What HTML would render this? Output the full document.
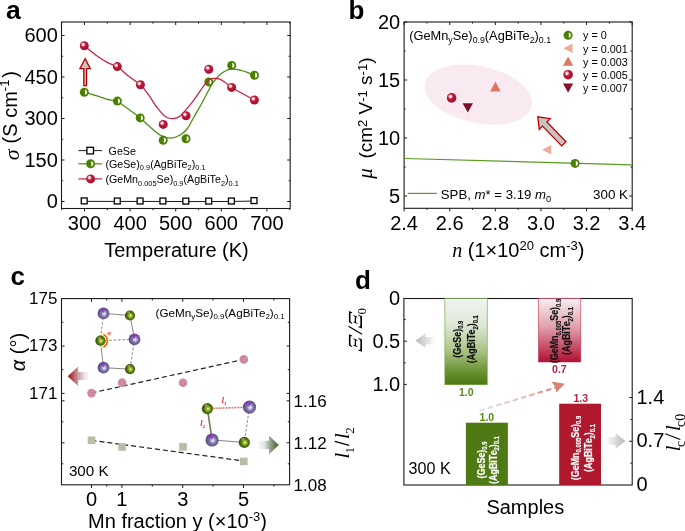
<!DOCTYPE html>
<html><head><meta charset="utf-8"><style>
html,body{margin:0;padding:0;background:#fff;}
svg{display:block;will-change:transform;filter:blur(0.25px);}
</style></head><body>
<svg width="685" height="531" viewBox="0 0 685 531" font-family="'Liberation Sans', sans-serif">

<defs>
<radialGradient id="gRed" cx="0.38" cy="0.36" r="0.62">
 <stop offset="0" stop-color="#ffffff"/>
 <stop offset="0.22" stop-color="#f3c6cf"/>
 <stop offset="0.42" stop-color="#c01a3c"/>
 <stop offset="1" stop-color="#a80f2c"/>
</radialGradient>
<radialGradient id="gPur" cx="0.55" cy="0.55" r="0.6" fx="0.55" fy="0.52">
 <stop offset="0" stop-color="#ffffff"/>
 <stop offset="0.16" stop-color="#d0c8ea"/>
 <stop offset="0.45" stop-color="#7a6ea6"/>
 <stop offset="1" stop-color="#4c4278"/>
</radialGradient>
<radialGradient id="gGrn" cx="0.55" cy="0.55" r="0.6" fx="0.55" fy="0.5">
 <stop offset="0" stop-color="#f4ffb0"/>
 <stop offset="0.2" stop-color="#a8c838"/>
 <stop offset="0.55" stop-color="#4c7410"/>
 <stop offset="1" stop-color="#2c4806"/>
</radialGradient>
<linearGradient id="gArrL" gradientUnits="userSpaceOnUse" x1="67.7" y1="0" x2="89" y2="0">
 <stop offset="0" stop-color="#9a0a0a"/>
 <stop offset="0.48" stop-color="#c89aa2"/>
 <stop offset="0.75" stop-color="#e4d8e0"/>
 <stop offset="1" stop-color="#f4f4fa" stop-opacity="0.6"/>
</linearGradient>
<linearGradient id="gArrG" gradientUnits="userSpaceOnUse" x1="258" y1="0" x2="279" y2="0">
 <stop offset="0" stop-color="#f4f4fa" stop-opacity="0.6"/>
 <stop offset="0.3" stop-color="#e2e4e6"/>
 <stop offset="0.52" stop-color="#a8b0a0"/>
 <stop offset="1" stop-color="#3a5a1e"/>
</linearGradient>
<linearGradient id="gGrayL" x1="0" y1="0" x2="1" y2="0">
 <stop offset="0" stop-color="#b8b8b8"/>
 <stop offset="1" stop-color="#ffffff"/>
</linearGradient>
<linearGradient id="gGrayR" x1="0" y1="0" x2="1" y2="0">
 <stop offset="0" stop-color="#ffffff"/>
 <stop offset="1" stop-color="#b8b8b8"/>
</linearGradient>
<linearGradient id="gBarG" x1="0" y1="0" x2="0" y2="1">
 <stop offset="0" stop-color="#f1f4f2"/>
 <stop offset="0.3" stop-color="#dfe8d6"/>
 <stop offset="0.6" stop-color="#abc488"/>
 <stop offset="0.85" stop-color="#6a9232"/>
 <stop offset="1" stop-color="#4a7812"/>
</linearGradient>
<linearGradient id="gBarR" x1="0" y1="0" x2="0" y2="1">
 <stop offset="0" stop-color="#f8eef0"/>
 <stop offset="0.45" stop-color="#e0a0ac"/>
 <stop offset="1" stop-color="#b01030"/>
</linearGradient>
<linearGradient id="gDash" gradientUnits="userSpaceOnUse" x1="479" y1="0" x2="560" y2="0">
 <stop offset="0" stop-color="#e2e2e2"/>
 <stop offset="0.45" stop-color="#e2c6c2"/>
 <stop offset="1" stop-color="#d98070"/>
</linearGradient>
</defs>

<line x1="61.70" y1="208.50" x2="61.70" y2="210.10" stroke="#1a1a1a" stroke-width="1"/>
<line x1="61.70" y1="22.00" x2="61.70" y2="23.60" stroke="#1a1a1a" stroke-width="1"/>
<line x1="84.50" y1="208.50" x2="84.50" y2="211.50" stroke="#1a1a1a" stroke-width="1"/>
<line x1="84.50" y1="22.00" x2="84.50" y2="25.00" stroke="#1a1a1a" stroke-width="1"/>
<line x1="107.30" y1="208.50" x2="107.30" y2="210.10" stroke="#1a1a1a" stroke-width="1"/>
<line x1="107.30" y1="22.00" x2="107.30" y2="23.60" stroke="#1a1a1a" stroke-width="1"/>
<line x1="130.10" y1="208.50" x2="130.10" y2="211.50" stroke="#1a1a1a" stroke-width="1"/>
<line x1="130.10" y1="22.00" x2="130.10" y2="25.00" stroke="#1a1a1a" stroke-width="1"/>
<line x1="152.90" y1="208.50" x2="152.90" y2="210.10" stroke="#1a1a1a" stroke-width="1"/>
<line x1="152.90" y1="22.00" x2="152.90" y2="23.60" stroke="#1a1a1a" stroke-width="1"/>
<line x1="175.70" y1="208.50" x2="175.70" y2="211.50" stroke="#1a1a1a" stroke-width="1"/>
<line x1="175.70" y1="22.00" x2="175.70" y2="25.00" stroke="#1a1a1a" stroke-width="1"/>
<line x1="198.50" y1="208.50" x2="198.50" y2="210.10" stroke="#1a1a1a" stroke-width="1"/>
<line x1="198.50" y1="22.00" x2="198.50" y2="23.60" stroke="#1a1a1a" stroke-width="1"/>
<line x1="221.30" y1="208.50" x2="221.30" y2="211.50" stroke="#1a1a1a" stroke-width="1"/>
<line x1="221.30" y1="22.00" x2="221.30" y2="25.00" stroke="#1a1a1a" stroke-width="1"/>
<line x1="244.10" y1="208.50" x2="244.10" y2="210.10" stroke="#1a1a1a" stroke-width="1"/>
<line x1="244.10" y1="22.00" x2="244.10" y2="23.60" stroke="#1a1a1a" stroke-width="1"/>
<line x1="266.90" y1="208.50" x2="266.90" y2="211.50" stroke="#1a1a1a" stroke-width="1"/>
<line x1="266.90" y1="22.00" x2="266.90" y2="25.00" stroke="#1a1a1a" stroke-width="1"/>
<line x1="289.70" y1="208.50" x2="289.70" y2="210.10" stroke="#1a1a1a" stroke-width="1"/>
<line x1="289.70" y1="22.00" x2="289.70" y2="23.60" stroke="#1a1a1a" stroke-width="1"/>
<line x1="61.50" y1="201.50" x2="64.50" y2="201.50" stroke="#1a1a1a" stroke-width="1"/>
<line x1="290.20" y1="201.50" x2="287.20" y2="201.50" stroke="#1a1a1a" stroke-width="1"/>
<line x1="61.50" y1="180.75" x2="63.10" y2="180.75" stroke="#1a1a1a" stroke-width="1"/>
<line x1="290.20" y1="180.75" x2="288.60" y2="180.75" stroke="#1a1a1a" stroke-width="1"/>
<line x1="61.50" y1="160.00" x2="64.50" y2="160.00" stroke="#1a1a1a" stroke-width="1"/>
<line x1="290.20" y1="160.00" x2="287.20" y2="160.00" stroke="#1a1a1a" stroke-width="1"/>
<line x1="61.50" y1="139.25" x2="63.10" y2="139.25" stroke="#1a1a1a" stroke-width="1"/>
<line x1="290.20" y1="139.25" x2="288.60" y2="139.25" stroke="#1a1a1a" stroke-width="1"/>
<line x1="61.50" y1="118.50" x2="64.50" y2="118.50" stroke="#1a1a1a" stroke-width="1"/>
<line x1="290.20" y1="118.50" x2="287.20" y2="118.50" stroke="#1a1a1a" stroke-width="1"/>
<line x1="61.50" y1="97.75" x2="63.10" y2="97.75" stroke="#1a1a1a" stroke-width="1"/>
<line x1="290.20" y1="97.75" x2="288.60" y2="97.75" stroke="#1a1a1a" stroke-width="1"/>
<line x1="61.50" y1="77.00" x2="64.50" y2="77.00" stroke="#1a1a1a" stroke-width="1"/>
<line x1="290.20" y1="77.00" x2="287.20" y2="77.00" stroke="#1a1a1a" stroke-width="1"/>
<line x1="61.50" y1="56.25" x2="63.10" y2="56.25" stroke="#1a1a1a" stroke-width="1"/>
<line x1="290.20" y1="56.25" x2="288.60" y2="56.25" stroke="#1a1a1a" stroke-width="1"/>
<line x1="61.50" y1="35.50" x2="64.50" y2="35.50" stroke="#1a1a1a" stroke-width="1"/>
<line x1="290.20" y1="35.50" x2="287.20" y2="35.50" stroke="#1a1a1a" stroke-width="1"/>
<rect x="61.5" y="22.0" width="228.7" height="186.5" fill="none" stroke="#1a1a1a" stroke-width="1.1"/>
<text x="57.80" y="208.10" font-size="20" text-anchor="end" font-weight="normal" font-style="normal" fill="#000" font-family="'Liberation Sans', sans-serif" >0</text>
<text x="57.80" y="166.60" font-size="20" text-anchor="end" font-weight="normal" font-style="normal" fill="#000" font-family="'Liberation Sans', sans-serif" >150</text>
<text x="57.80" y="125.10" font-size="20" text-anchor="end" font-weight="normal" font-style="normal" fill="#000" font-family="'Liberation Sans', sans-serif" >300</text>
<text x="57.80" y="83.60" font-size="20" text-anchor="end" font-weight="normal" font-style="normal" fill="#000" font-family="'Liberation Sans', sans-serif" >450</text>
<text x="57.80" y="42.10" font-size="20" text-anchor="end" font-weight="normal" font-style="normal" fill="#000" font-family="'Liberation Sans', sans-serif" >600</text>
<text x="84.50" y="229.60" font-size="20" text-anchor="middle" font-weight="normal" font-style="normal" fill="#000" font-family="'Liberation Sans', sans-serif" >300</text>
<text x="130.10" y="229.60" font-size="20" text-anchor="middle" font-weight="normal" font-style="normal" fill="#000" font-family="'Liberation Sans', sans-serif" >400</text>
<text x="175.70" y="229.60" font-size="20" text-anchor="middle" font-weight="normal" font-style="normal" fill="#000" font-family="'Liberation Sans', sans-serif" >500</text>
<text x="221.30" y="229.60" font-size="20" text-anchor="middle" font-weight="normal" font-style="normal" fill="#000" font-family="'Liberation Sans', sans-serif" >600</text>
<text x="266.90" y="229.60" font-size="20" text-anchor="middle" font-weight="normal" font-style="normal" fill="#000" font-family="'Liberation Sans', sans-serif" >700</text>
<text x="176.50" y="257.00" font-size="20" text-anchor="middle" font-weight="normal" font-style="normal" fill="#000" font-family="'Liberation Sans', sans-serif" >Temperature (K)</text>
<g transform="translate(17.4,160) rotate(-90)"><text x="-0.2" y="1.6" font-size="22" font-family="'Liberation Serif', serif" font-style="italic">σ</text><text x="16.6" y="0" font-size="20" font-family="'Liberation Sans', sans-serif">(S cm<tspan dy="-8" font-size="13">-1</tspan><tspan dy="8" dx="1.8">)</tspan></text></g>
<text x="6.10" y="19.20" font-size="26.5" text-anchor="start" font-weight="bold" font-style="normal" fill="#000" font-family="'Liberation Sans', sans-serif" >a</text>
<polyline points="84.20,201.35 117.30,201.45 140.10,201.45 162.90,201.45 185.80,201.55 208.70,201.55 231.40,201.45 254.00,201.05" fill="none" stroke="#1a1a1a" stroke-width="1"/>
<rect x="81.25" y="197.95" width="5.90" height="5.90" fill="#fff" stroke="#000" stroke-width="1.3"/>
<rect x="114.35" y="198.05" width="5.90" height="5.90" fill="#fff" stroke="#000" stroke-width="1.3"/>
<rect x="137.15" y="198.05" width="5.90" height="5.90" fill="#fff" stroke="#000" stroke-width="1.3"/>
<rect x="159.95" y="198.05" width="5.90" height="5.90" fill="#fff" stroke="#000" stroke-width="1.3"/>
<rect x="182.85" y="198.15" width="5.90" height="5.90" fill="#fff" stroke="#000" stroke-width="1.3"/>
<rect x="205.75" y="198.15" width="5.90" height="5.90" fill="#fff" stroke="#000" stroke-width="1.3"/>
<rect x="228.45" y="198.05" width="5.90" height="5.90" fill="#fff" stroke="#000" stroke-width="1.3"/>
<rect x="251.05" y="197.65" width="5.90" height="5.90" fill="#fff" stroke="#000" stroke-width="1.3"/>
<path d="M84.40,92.20 C86.33,92.78 92.20,94.52 96.00,95.70 C99.80,96.88 103.65,98.33 107.20,99.30 C110.75,100.27 113.83,99.92 117.30,101.50 C120.77,103.08 124.17,106.07 128.00,108.80 C131.83,111.53 136.70,114.95 140.30,117.90 C143.90,120.85 146.30,123.65 149.60,126.50 C152.90,129.35 156.58,133.07 160.10,135.00 C163.62,136.93 167.43,138.05 170.70,138.10 C173.97,138.15 176.98,136.82 179.70,135.30 C182.42,133.78 184.60,132.10 187.00,129.00 C189.40,125.90 191.35,121.50 194.10,116.70 C196.85,111.90 200.67,105.38 203.50,100.20 C206.33,95.02 209.10,89.05 211.10,85.60 C213.10,82.15 213.90,81.43 215.50,79.50 C217.10,77.57 218.97,75.47 220.70,74.00 C222.43,72.53 224.18,71.50 225.90,70.70 C227.62,69.90 229.28,69.43 231.00,69.20 C232.72,68.97 234.47,69.08 236.20,69.30 C237.93,69.52 239.67,70.03 241.40,70.50 C243.13,70.97 244.40,71.32 246.60,72.10 C248.80,72.88 253.27,74.68 254.60,75.20" fill="none" stroke="#4b8a10" stroke-width="1.25"/>
<circle cx="84.30" cy="92.30" r="4.50" fill="#4b8000"/>
<path d="M85.00,89.59 A2.80,2.80 0 0 1 85.00,95.01 Z" fill="#fff"/>
<circle cx="117.40" cy="101.10" r="4.50" fill="#4b8000"/>
<path d="M118.10,98.39 A2.80,2.80 0 0 1 118.10,103.81 Z" fill="#fff"/>
<circle cx="140.20" cy="117.90" r="4.50" fill="#4b8000"/>
<path d="M140.90,115.19 A2.80,2.80 0 0 1 140.90,120.61 Z" fill="#fff"/>
<circle cx="163.20" cy="140.20" r="4.50" fill="#4b8000"/>
<path d="M163.90,137.49 A2.80,2.80 0 0 1 163.90,142.91 Z" fill="#fff"/>
<circle cx="186.00" cy="138.70" r="4.50" fill="#4b8000"/>
<path d="M186.70,135.99 A2.80,2.80 0 0 1 186.70,141.41 Z" fill="#fff"/>
<circle cx="208.80" cy="81.90" r="4.50" fill="#4b8000"/>
<path d="M209.50,79.19 A2.80,2.80 0 0 1 209.50,84.61 Z" fill="#fff"/>
<circle cx="231.70" cy="65.40" r="4.50" fill="#4b8000"/>
<path d="M232.40,62.69 A2.80,2.80 0 0 1 232.40,68.11 Z" fill="#fff"/>
<circle cx="254.50" cy="75.20" r="4.50" fill="#4b8000"/>
<path d="M255.20,72.49 A2.80,2.80 0 0 1 255.20,77.91 Z" fill="#fff"/>
<path d="M84.20,45.90 C86.17,47.45 92.17,52.45 96.00,55.20 C99.83,57.95 103.65,60.47 107.20,62.40 C110.75,64.33 113.83,64.57 117.30,66.80 C120.77,69.03 124.17,72.80 128.00,75.80 C131.83,78.80 136.95,81.75 140.30,84.80 C143.65,87.85 145.30,90.28 148.10,94.10 C150.90,97.92 154.35,104.07 157.10,107.70 C159.85,111.33 162.33,114.10 164.60,115.90 C166.87,117.70 168.55,118.22 170.70,118.50 C172.85,118.78 175.78,118.15 177.50,117.60 C179.22,117.05 179.85,116.20 181.00,115.20 C182.15,114.20 183.07,113.10 184.40,111.60 C185.73,110.10 187.43,108.12 189.00,106.20 C190.57,104.28 192.22,102.23 193.80,100.10 C195.38,97.97 196.93,95.65 198.50,93.40 C200.07,91.15 201.32,88.90 203.20,86.60 C205.08,84.30 207.92,80.97 209.80,79.60 C211.68,78.23 212.92,78.52 214.50,78.40 C216.08,78.28 217.55,78.27 219.30,78.90 C221.05,79.53 222.95,80.77 225.00,82.20 C227.05,83.63 226.72,84.53 231.60,87.50 C236.48,90.47 250.52,97.92 254.30,100.00" fill="none" stroke="#c8203f" stroke-width="1.25"/>
<circle cx="84.30" cy="45.80" r="4.5" fill="url(#gRed)"/>
<circle cx="117.30" cy="66.60" r="4.5" fill="url(#gRed)"/>
<circle cx="140.40" cy="84.80" r="4.5" fill="url(#gRed)"/>
<circle cx="163.20" cy="124.40" r="4.5" fill="url(#gRed)"/>
<circle cx="186.00" cy="115.70" r="4.5" fill="url(#gRed)"/>
<circle cx="208.80" cy="69.20" r="4.5" fill="url(#gRed)"/>
<circle cx="231.60" cy="87.40" r="4.5" fill="url(#gRed)"/>
<circle cx="254.40" cy="100.00" r="4.5" fill="url(#gRed)"/>
<path d="M85.1,58.6 L90.3,68.6 L86.5,68.6 L86.5,85.6 L83.8,85.6 L83.8,68.6 L79.9,68.6 Z" fill="#c4c4c4" stroke="#c00000" stroke-width="1.3" stroke-linejoin="miter"/>
<line x1="78.4" y1="150.6" x2="102.1" y2="150.6" stroke="#222" stroke-width="1"/>
<rect x="86.90" y="147.30" width="6.60" height="6.60" fill="#fff" stroke="#000" stroke-width="1.3"/>
<line x1="78.4" y1="163.8" x2="102.1" y2="163.8" stroke="#4b8a10" stroke-width="1.2"/>
<circle cx="90.60" cy="163.80" r="4.50" fill="#4b8000"/>
<path d="M91.30,161.09 A2.80,2.80 0 0 1 91.30,166.51 Z" fill="#fff"/>
<line x1="78.4" y1="178.9" x2="102.1" y2="178.9" stroke="#c8203f" stroke-width="1.2"/>
<circle cx="90.60" cy="178.90" r="4.5" fill="url(#gRed)"/>
<text x="108.60" y="154.60" font-size="10.7" text-anchor="start" font-weight="normal" font-style="normal" fill="#000" font-family="'Liberation Sans', sans-serif" >GeSe</text>
<text x="105.4" y="167.8" font-size="10.7" font-family="'Liberation Sans', sans-serif">(GeSe)<tspan dy="2.6" font-size="7.4">0.9</tspan><tspan dy="-2.6">(AgBiTe</tspan><tspan dy="2.6" font-size="7.4">2</tspan><tspan dy="-2.6">)</tspan><tspan dy="2.6" font-size="7.4">0.1</tspan></text>
<text x="105.4" y="182.9" font-size="10.7" font-family="'Liberation Sans', sans-serif">(GeMn<tspan dy="2.6" font-size="7.4">0.005</tspan><tspan dy="-2.6">Se)</tspan><tspan dy="2.6" font-size="7.4">0.9</tspan><tspan dy="-2.6">(AgBiTe</tspan><tspan dy="2.6" font-size="7.4">2</tspan><tspan dy="-2.6">)</tspan><tspan dy="2.6" font-size="7.4">0.1</tspan></text>
<line x1="404.10" y1="208.30" x2="404.10" y2="211.30" stroke="#1a1a1a" stroke-width="1"/>
<line x1="404.10" y1="22.00" x2="404.10" y2="25.00" stroke="#1a1a1a" stroke-width="1"/>
<line x1="426.91" y1="208.30" x2="426.91" y2="209.90" stroke="#1a1a1a" stroke-width="1"/>
<line x1="426.91" y1="22.00" x2="426.91" y2="23.60" stroke="#1a1a1a" stroke-width="1"/>
<line x1="449.72" y1="208.30" x2="449.72" y2="211.30" stroke="#1a1a1a" stroke-width="1"/>
<line x1="449.72" y1="22.00" x2="449.72" y2="25.00" stroke="#1a1a1a" stroke-width="1"/>
<line x1="472.53" y1="208.30" x2="472.53" y2="209.90" stroke="#1a1a1a" stroke-width="1"/>
<line x1="472.53" y1="22.00" x2="472.53" y2="23.60" stroke="#1a1a1a" stroke-width="1"/>
<line x1="495.34" y1="208.30" x2="495.34" y2="211.30" stroke="#1a1a1a" stroke-width="1"/>
<line x1="495.34" y1="22.00" x2="495.34" y2="25.00" stroke="#1a1a1a" stroke-width="1"/>
<line x1="518.15" y1="208.30" x2="518.15" y2="209.90" stroke="#1a1a1a" stroke-width="1"/>
<line x1="518.15" y1="22.00" x2="518.15" y2="23.60" stroke="#1a1a1a" stroke-width="1"/>
<line x1="540.96" y1="208.30" x2="540.96" y2="211.30" stroke="#1a1a1a" stroke-width="1"/>
<line x1="540.96" y1="22.00" x2="540.96" y2="25.00" stroke="#1a1a1a" stroke-width="1"/>
<line x1="563.77" y1="208.30" x2="563.77" y2="209.90" stroke="#1a1a1a" stroke-width="1"/>
<line x1="563.77" y1="22.00" x2="563.77" y2="23.60" stroke="#1a1a1a" stroke-width="1"/>
<line x1="586.58" y1="208.30" x2="586.58" y2="211.30" stroke="#1a1a1a" stroke-width="1"/>
<line x1="586.58" y1="22.00" x2="586.58" y2="25.00" stroke="#1a1a1a" stroke-width="1"/>
<line x1="609.39" y1="208.30" x2="609.39" y2="209.90" stroke="#1a1a1a" stroke-width="1"/>
<line x1="609.39" y1="22.00" x2="609.39" y2="23.60" stroke="#1a1a1a" stroke-width="1"/>
<line x1="632.20" y1="208.30" x2="632.20" y2="211.30" stroke="#1a1a1a" stroke-width="1"/>
<line x1="632.20" y1="22.00" x2="632.20" y2="25.00" stroke="#1a1a1a" stroke-width="1"/>
<line x1="404.10" y1="196.00" x2="407.10" y2="196.00" stroke="#1a1a1a" stroke-width="1"/>
<line x1="632.20" y1="196.00" x2="629.20" y2="196.00" stroke="#1a1a1a" stroke-width="1"/>
<line x1="404.10" y1="167.00" x2="405.70" y2="167.00" stroke="#1a1a1a" stroke-width="1"/>
<line x1="632.20" y1="167.00" x2="630.60" y2="167.00" stroke="#1a1a1a" stroke-width="1"/>
<line x1="404.10" y1="138.00" x2="407.10" y2="138.00" stroke="#1a1a1a" stroke-width="1"/>
<line x1="632.20" y1="138.00" x2="629.20" y2="138.00" stroke="#1a1a1a" stroke-width="1"/>
<line x1="404.10" y1="109.00" x2="405.70" y2="109.00" stroke="#1a1a1a" stroke-width="1"/>
<line x1="632.20" y1="109.00" x2="630.60" y2="109.00" stroke="#1a1a1a" stroke-width="1"/>
<line x1="404.10" y1="80.00" x2="407.10" y2="80.00" stroke="#1a1a1a" stroke-width="1"/>
<line x1="632.20" y1="80.00" x2="629.20" y2="80.00" stroke="#1a1a1a" stroke-width="1"/>
<line x1="404.10" y1="51.00" x2="405.70" y2="51.00" stroke="#1a1a1a" stroke-width="1"/>
<line x1="632.20" y1="51.00" x2="630.60" y2="51.00" stroke="#1a1a1a" stroke-width="1"/>
<line x1="404.10" y1="22.00" x2="407.10" y2="22.00" stroke="#1a1a1a" stroke-width="1"/>
<line x1="632.20" y1="22.00" x2="629.20" y2="22.00" stroke="#1a1a1a" stroke-width="1"/>
<rect x="404.1" y="22.0" width="228.10000000000002" height="186.3" fill="none" stroke="#1a1a1a" stroke-width="1.1"/>
<text x="400.20" y="202.60" font-size="20" text-anchor="end" font-weight="normal" font-style="normal" fill="#000" font-family="'Liberation Sans', sans-serif" >5</text>
<text x="400.20" y="144.60" font-size="20" text-anchor="end" font-weight="normal" font-style="normal" fill="#000" font-family="'Liberation Sans', sans-serif" >10</text>
<text x="400.20" y="86.60" font-size="20" text-anchor="end" font-weight="normal" font-style="normal" fill="#000" font-family="'Liberation Sans', sans-serif" >15</text>
<text x="400.20" y="28.60" font-size="20" text-anchor="end" font-weight="normal" font-style="normal" fill="#000" font-family="'Liberation Sans', sans-serif" >20</text>
<text x="404.10" y="229.60" font-size="20" text-anchor="middle" font-weight="normal" font-style="normal" fill="#000" font-family="'Liberation Sans', sans-serif" >2.4</text>
<text x="449.72" y="229.60" font-size="20" text-anchor="middle" font-weight="normal" font-style="normal" fill="#000" font-family="'Liberation Sans', sans-serif" >2.6</text>
<text x="495.34" y="229.60" font-size="20" text-anchor="middle" font-weight="normal" font-style="normal" fill="#000" font-family="'Liberation Sans', sans-serif" >2.8</text>
<text x="540.96" y="229.60" font-size="20" text-anchor="middle" font-weight="normal" font-style="normal" fill="#000" font-family="'Liberation Sans', sans-serif" >3.0</text>
<text x="586.58" y="229.60" font-size="20" text-anchor="middle" font-weight="normal" font-style="normal" fill="#000" font-family="'Liberation Sans', sans-serif" >3.2</text>
<text x="632.20" y="229.60" font-size="20" text-anchor="middle" font-weight="normal" font-style="normal" fill="#000" font-family="'Liberation Sans', sans-serif" >3.4</text>
<text x="518.3" y="257.3" font-size="20" text-anchor="middle" font-family="'Liberation Sans', sans-serif"><tspan font-family="'Liberation Serif', serif" font-style="italic">n</tspan> (1×10<tspan dy="-7" font-size="13">20</tspan><tspan dy="7"> cm</tspan><tspan dy="-7" font-size="13">-3</tspan><tspan dy="7">)</tspan></text>
<g transform="translate(371.5,179) rotate(-90)"><text x="0.2" y="0" font-size="21" font-family="'Liberation Serif', serif" font-style="italic">μ</text><text x="20.4" y="0" font-size="19" font-family="'Liberation Sans', sans-serif">(cm<tspan dy="-4.5" font-size="13">2</tspan><tspan dy="4.5"> V</tspan><tspan dy="-4.5" font-size="13">-1</tspan><tspan dy="4.5"> s</tspan><tspan dy="-4.5" font-size="13">-1</tspan><tspan dy="4.5">)</tspan></text></g>
<text x="348.50" y="19.20" font-size="26" text-anchor="start" font-weight="bold" font-style="normal" fill="#000" font-family="'Liberation Sans', sans-serif" >b</text>
<ellipse cx="478.3" cy="94.7" rx="54.5" ry="28.5" transform="rotate(12 478.3 94.7)" fill="#f9e9f1"/>
<line x1="404.6" y1="158.5" x2="631.7" y2="164.8" stroke="#5a9a20" stroke-width="1.2"/>
<circle cx="575.10" cy="163.40" r="4.50" fill="#4b8000"/>
<path d="M575.80,160.69 A2.80,2.80 0 0 1 575.80,166.11 Z" fill="#fff"/>
<path d="M542.3,149.8 L551.2,145.0 L551.2,154.6 Z" fill="#f0a898"/>
<path d="M495.4,81.6 L500.6,91.6 L490.2,91.6 Z" fill="#e07560"/>
<circle cx="451.60" cy="97.90" r="4.8" fill="url(#gRed)"/>
<path d="M462.6,103.3 L473.0,103.3 L467.8,112.6 Z" fill="#7e0c28"/>
<g transform="translate(537.8,116.8) rotate(-134)"><path d="M0,0 L-10,-7.6 L-10,-3 L-37.5,-3 L-37.5,3 L-10,3 L-10,7.6 Z" fill="#c4c4c4" stroke="#c00000" stroke-width="1.3"/></g>
<text x="409.20" y="45.00" font-size="11" text-anchor="start" font-weight="normal" font-style="normal" fill="#000" font-family="'Liberation Sans', sans-serif" ></text>
<text x="409.2" y="39.9" font-size="12.8" font-family="'Liberation Sans', sans-serif">(GeMn<tspan dy="3" font-size="8.8">y</tspan><tspan dy="-3">Se)</tspan><tspan dy="3" font-size="8.8">0.9</tspan><tspan dy="-3">(AgBiTe</tspan><tspan dy="3" font-size="8.8">2</tspan><tspan dy="-3">)</tspan><tspan dy="3" font-size="8.8">0.1</tspan></text>
<circle cx="568.10" cy="35.30" r="4.50" fill="#4b8000"/>
<path d="M568.80,32.59 A2.80,2.80 0 0 1 568.80,38.01 Z" fill="#fff"/>
<path d="M563.5,48.3 L572.5,43.6 L572.5,53.0 Z" fill="#f0a898"/>
<path d="M568.1,56.4 L573.2,65.8 L563.0,65.8 Z" fill="#e07560"/>
<circle cx="568.10" cy="74.70" r="4.8" fill="url(#gRed)"/>
<path d="M563.0,83.6 L573.2,83.6 L568.1,92.8 Z" fill="#85102a"/>
<text x="583.00" y="39.30" font-size="10.8" text-anchor="start" font-weight="normal" font-style="normal" fill="#000" font-family="'Liberation Sans', sans-serif" >y = 0</text>
<text x="583.00" y="52.50" font-size="10.8" text-anchor="start" font-weight="normal" font-style="normal" fill="#000" font-family="'Liberation Sans', sans-serif" >y = 0.001</text>
<text x="583.00" y="65.70" font-size="10.8" text-anchor="start" font-weight="normal" font-style="normal" fill="#000" font-family="'Liberation Sans', sans-serif" >y = 0.003</text>
<text x="583.00" y="78.90" font-size="10.8" text-anchor="start" font-weight="normal" font-style="normal" fill="#000" font-family="'Liberation Sans', sans-serif" >y = 0.005</text>
<text x="583.00" y="92.10" font-size="10.8" text-anchor="start" font-weight="normal" font-style="normal" fill="#000" font-family="'Liberation Sans', sans-serif" >y = 0.007</text>
<line x1="407.7" y1="193.4" x2="436.8" y2="193.4" stroke="#5a9a20" stroke-width="1.2"/>
<text x="440.8" y="198.8" font-size="13.2" font-family="'Liberation Sans', sans-serif">SPB, <tspan font-style="italic">m</tspan>* = 3.19 <tspan font-style="italic">m</tspan><tspan dy="3" font-size="9.2">0</tspan></text>
<text x="628.00" y="198.80" font-size="13.4" text-anchor="end" font-weight="normal" font-style="normal" fill="#000" font-family="'Liberation Sans', sans-serif" >300 K</text>
<line x1="91.50" y1="484.80" x2="91.50" y2="488.00" stroke="#1a1a1a" stroke-width="1"/>
<line x1="91.50" y1="298.60" x2="91.50" y2="301.80" stroke="#1a1a1a" stroke-width="1"/>
<line x1="106.70" y1="484.80" x2="106.70" y2="486.60" stroke="#1a1a1a" stroke-width="1"/>
<line x1="106.70" y1="298.60" x2="106.70" y2="300.40" stroke="#1a1a1a" stroke-width="1"/>
<line x1="121.90" y1="484.80" x2="121.90" y2="488.00" stroke="#1a1a1a" stroke-width="1"/>
<line x1="121.90" y1="298.60" x2="121.90" y2="301.80" stroke="#1a1a1a" stroke-width="1"/>
<line x1="152.30" y1="484.80" x2="152.30" y2="486.60" stroke="#1a1a1a" stroke-width="1"/>
<line x1="152.30" y1="298.60" x2="152.30" y2="300.40" stroke="#1a1a1a" stroke-width="1"/>
<line x1="182.70" y1="484.80" x2="182.70" y2="488.00" stroke="#1a1a1a" stroke-width="1"/>
<line x1="182.70" y1="298.60" x2="182.70" y2="301.80" stroke="#1a1a1a" stroke-width="1"/>
<line x1="213.10" y1="484.80" x2="213.10" y2="486.60" stroke="#1a1a1a" stroke-width="1"/>
<line x1="213.10" y1="298.60" x2="213.10" y2="300.40" stroke="#1a1a1a" stroke-width="1"/>
<line x1="243.50" y1="484.80" x2="243.50" y2="488.00" stroke="#1a1a1a" stroke-width="1"/>
<line x1="243.50" y1="298.60" x2="243.50" y2="301.80" stroke="#1a1a1a" stroke-width="1"/>
<line x1="273.90" y1="484.80" x2="273.90" y2="486.60" stroke="#1a1a1a" stroke-width="1"/>
<line x1="273.90" y1="298.60" x2="273.90" y2="300.40" stroke="#1a1a1a" stroke-width="1"/>
<line x1="61.50" y1="322.30" x2="63.30" y2="322.30" stroke="#1a1a1a" stroke-width="1"/>
<line x1="289.60" y1="322.30" x2="287.80" y2="322.30" stroke="#1a1a1a" stroke-width="1"/>
<line x1="61.50" y1="346.00" x2="64.50" y2="346.00" stroke="#1a1a1a" stroke-width="1"/>
<line x1="289.60" y1="346.00" x2="286.60" y2="346.00" stroke="#1a1a1a" stroke-width="1"/>
<line x1="61.50" y1="369.70" x2="63.30" y2="369.70" stroke="#1a1a1a" stroke-width="1"/>
<line x1="289.60" y1="369.70" x2="287.80" y2="369.70" stroke="#1a1a1a" stroke-width="1"/>
<line x1="61.50" y1="393.40" x2="64.50" y2="393.40" stroke="#1a1a1a" stroke-width="1"/>
<line x1="289.60" y1="393.40" x2="286.60" y2="393.40" stroke="#1a1a1a" stroke-width="1"/>
<line x1="61.50" y1="463.80" x2="63.30" y2="463.80" stroke="#1a1a1a" stroke-width="1"/>
<line x1="289.60" y1="463.80" x2="287.80" y2="463.80" stroke="#1a1a1a" stroke-width="1"/>
<line x1="61.50" y1="442.80" x2="64.50" y2="442.80" stroke="#1a1a1a" stroke-width="1"/>
<line x1="289.60" y1="442.80" x2="286.60" y2="442.80" stroke="#1a1a1a" stroke-width="1"/>
<line x1="61.50" y1="421.80" x2="63.30" y2="421.80" stroke="#1a1a1a" stroke-width="1"/>
<line x1="289.60" y1="421.80" x2="287.80" y2="421.80" stroke="#1a1a1a" stroke-width="1"/>
<line x1="61.50" y1="400.80" x2="64.50" y2="400.80" stroke="#1a1a1a" stroke-width="1"/>
<line x1="289.60" y1="400.80" x2="286.60" y2="400.80" stroke="#1a1a1a" stroke-width="1"/>
<rect x="61.5" y="298.6" width="228.10000000000002" height="186.2" fill="none" stroke="#1a1a1a" stroke-width="1.1"/>
<text x="57.40" y="303.80" font-size="17" text-anchor="end" font-weight="normal" font-style="normal" fill="#000" font-family="'Liberation Sans', sans-serif" >175</text>
<text x="57.40" y="351.20" font-size="17" text-anchor="end" font-weight="normal" font-style="normal" fill="#000" font-family="'Liberation Sans', sans-serif" >173</text>
<text x="57.40" y="398.60" font-size="17" text-anchor="end" font-weight="normal" font-style="normal" fill="#000" font-family="'Liberation Sans', sans-serif" >171</text>
<text x="293.60" y="406.60" font-size="17" text-anchor="start" font-weight="normal" font-style="normal" fill="#000" font-family="'Liberation Sans', sans-serif" >1.16</text>
<text x="293.60" y="448.60" font-size="17" text-anchor="start" font-weight="normal" font-style="normal" fill="#000" font-family="'Liberation Sans', sans-serif" >1.12</text>
<text x="293.60" y="490.60" font-size="17" text-anchor="start" font-weight="normal" font-style="normal" fill="#000" font-family="'Liberation Sans', sans-serif" >1.08</text>
<text x="91.50" y="506.40" font-size="20" text-anchor="middle" font-weight="normal" font-style="normal" fill="#000" font-family="'Liberation Sans', sans-serif" >0</text>
<text x="121.90" y="506.40" font-size="20" text-anchor="middle" font-weight="normal" font-style="normal" fill="#000" font-family="'Liberation Sans', sans-serif" >1</text>
<text x="182.70" y="506.40" font-size="20" text-anchor="middle" font-weight="normal" font-style="normal" fill="#000" font-family="'Liberation Sans', sans-serif" >3</text>
<text x="243.50" y="506.40" font-size="20" text-anchor="middle" font-weight="normal" font-style="normal" fill="#000" font-family="'Liberation Sans', sans-serif" >5</text>
<text x="177.5" y="527.5" font-size="20" text-anchor="middle" font-family="'Liberation Sans', sans-serif">Mn fraction y (×10<tspan dy="-7" font-size="13">-3</tspan><tspan dy="7">)</tspan></text>
<text transform="translate(25,352) rotate(-90)" font-size="20" text-anchor="middle" font-family="'Liberation Sans', sans-serif"><tspan font-style="italic">α</tspan> (°)</text>
<g transform="translate(349.0,460.0) rotate(-90)"><text x="0" y="0" transform="translate(1.6,0) scale(1,1) skewX(0)" font-size="21" font-family="'Liberation Serif', serif" font-style="italic" fill="#000">l</text><text x="0" y="0" transform="translate(6.4,4.5) scale(1,1) skewX(0)" font-size="13" font-family="'Liberation Serif', serif" font-style="normal" fill="#000">1</text><line x1="14.6" y1="0.2" x2="18.6" y2="-14.2" stroke="#000" stroke-width="1.1"/><text x="0" y="0" transform="translate(20.9,0) scale(1,1) skewX(0)" font-size="21" font-family="'Liberation Serif', serif" font-style="italic" fill="#000">l</text><text x="0" y="0" transform="translate(26.3,4.5) scale(1,1) skewX(0)" font-size="13" font-family="'Liberation Serif', serif" font-style="normal" fill="#000">2</text></g>
<text x="10.50" y="285.30" font-size="26" text-anchor="start" font-weight="bold" font-style="normal" fill="#000" font-family="'Liberation Sans', sans-serif" >c</text>
<text x="155.6" y="316.6" font-size="11.7" font-family="'Liberation Sans', sans-serif">(GeMn<tspan dy="2.8" font-size="7.9">y</tspan><tspan dy="-2.8">Se)</tspan><tspan dy="2.8" font-size="7.9">0.9</tspan><tspan dy="-2.8">(AgBiTe</tspan><tspan dy="2.8" font-size="7.9">2</tspan><tspan dy="-2.8">)</tspan><tspan dy="2.8" font-size="7.9">0.1</tspan></text>
<text x="68.90" y="476.10" font-size="15.2" text-anchor="start" font-weight="normal" font-style="normal" fill="#000" font-family="'Liberation Sans', sans-serif" >300 K</text>
<line x1="91.5" y1="393.0" x2="243.8" y2="359.4" stroke="#222" stroke-width="1.2" stroke-dasharray="5,3"/>
<line x1="91.5" y1="440.3" x2="243.8" y2="461.0" stroke="#222" stroke-width="1.2" stroke-dasharray="5,3"/>
<circle cx="91.5" cy="393.1" r="4.3" fill="#cf8a9c"/>
<circle cx="122.1" cy="382.6" r="4.3" fill="#cf8a9c"/>
<circle cx="183.0" cy="382.7" r="4.3" fill="#cf8a9c"/>
<circle cx="243.8" cy="359.4" r="4.3" fill="#cf8a9c"/>
<rect x="87.7" y="436.5" width="7.6" height="7.6" fill="#b4bea8"/>
<rect x="118.3" y="443.2" width="7.6" height="7.6" fill="#b4bea8"/>
<rect x="179.2" y="443.0" width="7.6" height="7.6" fill="#b4bea8"/>
<rect x="240.0" y="457.59999999999997" width="7.6" height="7.6" fill="#b4bea8"/>
<path d="M67.7,376.3 L78.2,366.6 L78.2,372.0 L88.6,372.0 L88.6,380.0 L78.2,380.0 L78.2,386.0 Z" fill="url(#gArrL)"/>
<path d="M278.8,445.0 L269.0,435.6 L269.0,440.7 L258.2,440.7 L258.2,448.9 L269.0,448.9 L269.0,454.2 Z" fill="url(#gArrG)"/>
<line x1="103.5" y1="313.4" x2="130.0" y2="315.5" stroke="#666" stroke-width="0.8"/>
<line x1="130.0" y1="315.5" x2="134.5" y2="339.3" stroke="#666" stroke-width="0.8"/>
<line x1="134.5" y1="339.3" x2="130.0" y2="369.1" stroke="#666" stroke-width="0.8" stroke-dasharray="2.6,1.8"/>
<line x1="103.5" y1="367.7" x2="130.0" y2="369.1" stroke="#666" stroke-width="0.8"/>
<line x1="103.5" y1="313.4" x2="100.4" y2="340.7" stroke="#666" stroke-width="0.8" stroke-dasharray="2.6,1.8"/>
<line x1="100.4" y1="340.7" x2="103.5" y2="367.7" stroke="#666" stroke-width="0.8"/>
<line x1="100.4" y1="340.7" x2="134.5" y2="339.3" stroke="#666" stroke-width="0.8" stroke-dasharray="2.6,1.8"/>
<path d="M103.05,334.31 A7.0,7.0 0 0 1 103.05,347.09" fill="none" stroke="#fff0a0" stroke-width="3.4" stroke-linecap="round"/>
<path d="M103.49,334.52 A7.0,7.0 0 0 1 103.49,346.88" fill="none" stroke="#f0401a" stroke-width="1.3"/>
<text x="107.60" y="334.60" font-size="6" text-anchor="start" font-weight="bold" font-style="italic" fill="#ee2020" font-family="'Liberation Serif', serif" >α</text>
<circle cx="103.5" cy="313.4" r="5.9" fill="url(#gPur)"/>
<path d="M103.50,313.40 L100.62,309.29 A5.015000000000001,5.015000000000001 0 0 1 104.37,308.46 Z" fill="#b020d0" opacity="0.75"/>
<circle cx="130.0" cy="315.5" r="5.1" fill="url(#gGrn)"/>
<path d="M130.00,315.50 L126.93,312.43 A4.335,4.335 0 0 1 130.00,311.17 Z" fill="#c0a060" opacity="0.7"/>
<circle cx="100.4" cy="340.7" r="5.1" fill="url(#gGrn)"/>
<path d="M100.40,340.70 L97.33,337.63 A4.335,4.335 0 0 1 100.40,336.37 Z" fill="#c0a060" opacity="0.7"/>
<circle cx="134.5" cy="339.3" r="5.9" fill="url(#gPur)"/>
<path d="M134.50,339.30 L131.62,335.19 A5.015000000000001,5.015000000000001 0 0 1 135.37,334.36 Z" fill="#b020d0" opacity="0.75"/>
<circle cx="103.5" cy="367.7" r="5.9" fill="url(#gPur)"/>
<path d="M103.50,367.70 L100.62,363.59 A5.015000000000001,5.015000000000001 0 0 1 104.37,362.76 Z" fill="#b020d0" opacity="0.75"/>
<circle cx="130.0" cy="369.1" r="5.1" fill="url(#gGrn)"/>
<path d="M130.00,369.10 L126.93,366.03 A4.335,4.335 0 0 1 130.00,364.77 Z" fill="#c0a060" opacity="0.7"/>
<line x1="207.4" y1="408.6" x2="249.5" y2="407.1" stroke="#e07070" stroke-width="1.6" stroke-dasharray="2,1"/>
<line x1="207.4" y1="408.6" x2="212.1" y2="440.0" stroke="#6a7a5a" stroke-width="1.6"/>
<line x1="249.5" y1="407.1" x2="244.3" y2="442.4" stroke="#666" stroke-width="0.8" stroke-dasharray="2.6,1.8"/>
<line x1="212.1" y1="440.0" x2="244.3" y2="442.4" stroke="#666" stroke-width="0.8"/>
<text x="224.20" y="403.20" font-size="8" text-anchor="middle" font-weight="bold" font-style="italic" fill="#ee2020" font-family="'Liberation Serif', serif" >l<tspan dy='1.5' font-size='5'>1</tspan></text>
<text x="202.60" y="426.20" font-size="8" text-anchor="middle" font-weight="bold" font-style="italic" fill="#ee2020" font-family="'Liberation Serif', serif" >l<tspan dy='1.5' font-size='5'>2</tspan></text>
<circle cx="207.4" cy="408.6" r="5.6" fill="url(#gGrn)"/>
<path d="M207.40,408.60 L204.03,405.23 A4.76,4.76 0 0 1 207.40,403.84 Z" fill="#c0a060" opacity="0.7"/>
<circle cx="249.5" cy="407.1" r="6.6" fill="url(#gPur)"/>
<path d="M249.50,407.10 L246.28,402.50 A5.609999999999999,5.609999999999999 0 0 1 250.47,401.58 Z" fill="#b020d0" opacity="0.75"/>
<circle cx="212.1" cy="440.0" r="6.6" fill="url(#gPur)"/>
<path d="M212.10,440.00 L208.88,435.40 A5.609999999999999,5.609999999999999 0 0 1 213.07,434.48 Z" fill="#b020d0" opacity="0.75"/>
<circle cx="244.3" cy="442.4" r="5.6" fill="url(#gGrn)"/>
<path d="M244.30,442.40 L240.93,439.03 A4.76,4.76 0 0 1 244.30,437.64 Z" fill="#c0a060" opacity="0.7"/>
<line x1="403.90" y1="319.60" x2="405.70" y2="319.60" stroke="#1a1a1a" stroke-width="1"/>
<line x1="403.90" y1="341.20" x2="406.90" y2="341.20" stroke="#1a1a1a" stroke-width="1"/>
<line x1="403.90" y1="362.80" x2="405.70" y2="362.80" stroke="#1a1a1a" stroke-width="1"/>
<line x1="403.90" y1="384.40" x2="406.90" y2="384.40" stroke="#1a1a1a" stroke-width="1"/>
<line x1="632.20" y1="463.12" x2="630.40" y2="463.12" stroke="#1a1a1a" stroke-width="1"/>
<line x1="632.20" y1="441.25" x2="629.20" y2="441.25" stroke="#1a1a1a" stroke-width="1"/>
<line x1="632.20" y1="419.38" x2="630.40" y2="419.38" stroke="#1a1a1a" stroke-width="1"/>
<line x1="632.20" y1="397.50" x2="629.20" y2="397.50" stroke="#1a1a1a" stroke-width="1"/>
<rect x="403.9" y="298.5" width="228.30000000000007" height="186.5" fill="none" stroke="#1a1a1a" stroke-width="1.1"/>
<text x="400.20" y="304.60" font-size="20" text-anchor="end" font-weight="normal" font-style="normal" fill="#000" font-family="'Liberation Sans', sans-serif" >0</text>
<text x="400.20" y="347.80" font-size="20" text-anchor="end" font-weight="normal" font-style="normal" fill="#000" font-family="'Liberation Sans', sans-serif" >0.5</text>
<text x="400.20" y="391.00" font-size="20" text-anchor="end" font-weight="normal" font-style="normal" fill="#000" font-family="'Liberation Sans', sans-serif" >1.0</text>
<text x="636.50" y="403.70" font-size="20" text-anchor="start" font-weight="normal" font-style="normal" fill="#000" font-family="'Liberation Sans', sans-serif" >1.4</text>
<text x="636.50" y="447.45" font-size="20" text-anchor="start" font-weight="normal" font-style="normal" fill="#000" font-family="'Liberation Sans', sans-serif" >0.7</text>
<text x="636.50" y="491.40" font-size="20" text-anchor="start" font-weight="normal" font-style="normal" fill="#000" font-family="'Liberation Sans', sans-serif" >0</text>
<text x="517.50" y="497.50" font-size="20" text-anchor="start" font-weight="normal" font-style="normal" fill="#000" font-family="'Liberation Sans', sans-serif" ></text>
<text x="525.30" y="514.10" font-size="20" text-anchor="middle" font-weight="normal" font-style="normal" fill="#000" font-family="'Liberation Sans', sans-serif" >Samples</text>
<text x="355.00" y="289.00" font-size="26" text-anchor="start" font-weight="bold" font-style="normal" fill="#000" font-family="'Liberation Sans', sans-serif" >d</text>
<g transform="translate(361.7,351.0) rotate(-90)"><text x="0" y="0" transform="translate(-1.2,0) scale(1.2,1) skewX(-10)" font-size="20" font-family="'Liberation Serif', serif" font-style="italic" fill="#000">Ξ</text><line x1="16.8" y1="0.3" x2="24.8" y2="-13.2" stroke="#000" stroke-width="1.1"/><text x="0" y="0" transform="translate(21.9,0) scale(1.2,1) skewX(-10)" font-size="20" font-family="'Liberation Serif', serif" font-style="italic" fill="#000">Ξ</text><text x="0" y="0" transform="translate(36.5,4.5) scale(1,1) skewX(0)" font-size="13" font-family="'Liberation Serif', serif" font-style="normal" fill="#000">0</text></g>
<g transform="translate(680.0,452.0) rotate(-90)"><text x="0" y="0" transform="translate(0.5,0) scale(1,1) skewX(0)" font-size="22" font-family="'Liberation Serif', serif" font-style="italic" fill="#000">l</text><text x="0" y="0" transform="translate(5.0,4.5) scale(1,1) skewX(0)" font-size="14" font-family="'Liberation Serif', serif" font-style="normal" fill="#000">c</text><line x1="12.6" y1="0.3" x2="18.3" y2="-14.8" stroke="#000" stroke-width="1.1"/><text x="0" y="0" transform="translate(20.8,0) scale(1,1) skewX(0)" font-size="22" font-family="'Liberation Serif', serif" font-style="italic" fill="#000">l</text><text x="0" y="0" transform="translate(25.0,4.5) scale(1,1) skewX(0)" font-size="14" font-family="'Liberation Serif', serif" font-style="normal" fill="#000">c0</text></g>
<rect x="444.9" y="298.5" width="42.3" height="86.2" fill="url(#gBarG)" stroke="#6a9a30" stroke-width="0.6"/>
<rect x="538.5" y="298.5" width="42.3" height="63.5" fill="url(#gBarR)" stroke="#c03050" stroke-width="0.6"/>
<rect x="465.9" y="422.7" width="42" height="62.3" fill="#4e7a14"/>
<rect x="559.2" y="403.7" width="41.8" height="81.3" fill="#b0182e"/>
<text x="466.20" y="395.60" font-size="10.5" text-anchor="middle" font-weight="bold" font-style="normal" fill="#5a8a18" font-family="'Liberation Sans', sans-serif" >1.0</text>
<text x="486.90" y="420.60" font-size="10.5" text-anchor="middle" font-weight="bold" font-style="normal" fill="#5a8a18" font-family="'Liberation Sans', sans-serif" >1.0</text>
<text x="559.40" y="372.60" font-size="10.5" text-anchor="middle" font-weight="bold" font-style="normal" fill="#b82040" font-family="'Liberation Sans', sans-serif" >0.7</text>
<text x="580.70" y="401.50" font-size="10.5" text-anchor="middle" font-weight="bold" font-style="normal" fill="#b82040" font-family="'Liberation Sans', sans-serif" >1.3</text>
<text transform="translate(460.6,339.2) rotate(-90) scale(0.86,1)" font-size="10.4" font-weight="bold" text-anchor="middle" font-family="'Liberation Sans', sans-serif" fill="#111" stroke="#111" stroke-width="0.2">(GeSe)<tspan dy="2.3" font-size="6.8">0.9</tspan></text>
<text transform="translate(475.2,339.2) rotate(-90) scale(0.86,1)" font-size="10.4" font-weight="bold" text-anchor="middle" font-family="'Liberation Sans', sans-serif" fill="#111" stroke="#111" stroke-width="0.2">(AgBiTe<tspan dy="2.3" font-size="6.8">2</tspan><tspan dy="-2.3">)</tspan><tspan dy="2.3" font-size="6.8">0.1</tspan></text>
<text transform="translate(558.3,331.0) rotate(-90) scale(0.86,1)" font-size="10.4" font-weight="bold" text-anchor="middle" font-family="'Liberation Sans', sans-serif" fill="#111" stroke="#111" stroke-width="0.2">(GeMn<tspan dy="2.3" font-size="6.8">0.005</tspan><tspan dy="-2.3">Se)</tspan><tspan dy="2.3" font-size="6.8">0.9</tspan></text>
<text transform="translate(570.3,331.0) rotate(-90) scale(0.86,1)" font-size="10.4" font-weight="bold" text-anchor="middle" font-family="'Liberation Sans', sans-serif" fill="#111" stroke="#111" stroke-width="0.2">(AgBiTe<tspan dy="2.3" font-size="6.8">2</tspan><tspan dy="-2.3">)</tspan><tspan dy="2.3" font-size="6.8">0.1</tspan></text>
<text transform="translate(485.0,460.0) rotate(-90) scale(0.86,1)" font-size="10.4" font-weight="bold" text-anchor="middle" font-family="'Liberation Sans', sans-serif" fill="#fff" stroke="#fff" stroke-width="0.2">(GeSe)<tspan dy="2.3" font-size="6.8">0.9</tspan></text>
<text transform="translate(496.8,460.0) rotate(-90) scale(0.86,1)" font-size="10.4" font-weight="bold" text-anchor="middle" font-family="'Liberation Sans', sans-serif" fill="#fff" stroke="#fff" stroke-width="0.2">(AgBiTe<tspan dy="2.3" font-size="6.8">2</tspan><tspan dy="-2.3">)</tspan><tspan dy="2.3" font-size="6.8">0.1</tspan></text>
<text transform="translate(578.8,448.0) rotate(-90) scale(0.86,1)" font-size="10.4" font-weight="bold" text-anchor="middle" font-family="'Liberation Sans', sans-serif" fill="#fff" stroke="#fff" stroke-width="0.2">(GeMn<tspan dy="2.3" font-size="6.8">0.005</tspan><tspan dy="-2.3">Se)</tspan><tspan dy="2.3" font-size="6.8">0.9</tspan></text>
<text transform="translate(592.4,448.0) rotate(-90) scale(0.86,1)" font-size="10.4" font-weight="bold" text-anchor="middle" font-family="'Liberation Sans', sans-serif" fill="#fff" stroke="#fff" stroke-width="0.2">(AgBiTe<tspan dy="2.3" font-size="6.8">2</tspan><tspan dy="-2.3">)</tspan><tspan dy="2.3" font-size="6.8">0.1</tspan></text>
<path d="M415.4,340.7 L425.5,333.6 L425.5,337.0 L436,337.0 L436,344.4 L425.5,344.4 L425.5,347.8 Z" fill="url(#gGrayL)"/>
<path d="M625.4,441.0 L615.5,433.0 L615.5,437.0 L605.5,437.0 L605.5,445.0 L615.5,445.0 L615.5,449.0 Z" fill="url(#gGrayR)"/>
<line x1="479.3" y1="410.7" x2="556" y2="387.5" stroke="url(#gDash)" stroke-width="2.0" stroke-dasharray="5.5,3.2"/>
<path d="M564.9,383.7 L551.3,381.6 L555.6,387.3 L556.2,392.6 Z" fill="#d98070"/>
<text x="408.60" y="474.00" font-size="16.1" text-anchor="start" font-weight="normal" font-style="normal" fill="#000" font-family="'Liberation Sans', sans-serif" >300 K</text>
</svg>
</body></html>
